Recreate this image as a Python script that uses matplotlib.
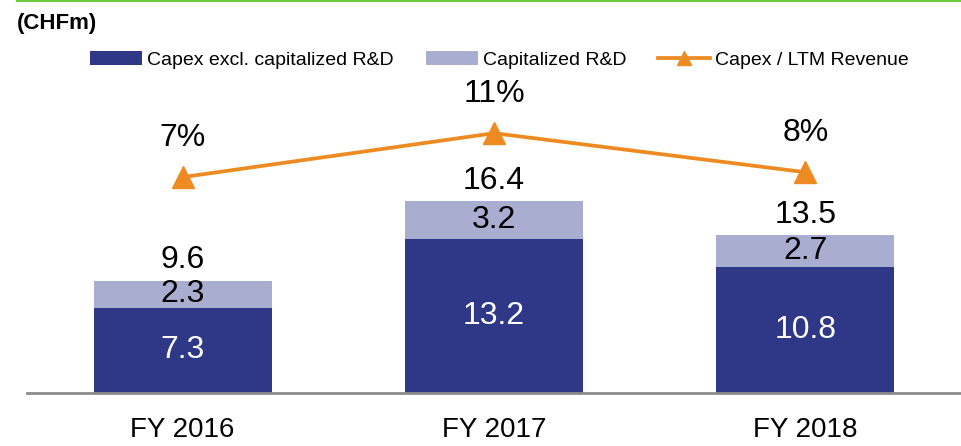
import matplotlib
matplotlib.use("Agg")
import matplotlib.pyplot as plt
from matplotlib.lines import Line2D
import numpy as np

plt.rcParams['font.family'] = ['Liberation Sans', 'DejaVu Sans']

# data
years = ['FY 2016', 'FY 2017', 'FY 2018']
capex_excl = [7.3, 13.2, 10.8]
cap_rd = [2.3, 3.2, 2.7]
capex_ratio = [0.074, 0.110, 0.078]   # Capex / LTM Revenue
ratio_labels = ['7%', '11%', '8%']

dark = '#2E3886'
light = '#A9ADD0'
orange = '#EE8A22'

fig = plt.figure(figsize=(9.61, 4.46), dpi=100)
ax = fig.add_axes([0.0281, 0.1188, 0.9719, 0.7018])

x = np.arange(len(years))
totals = np.array(capex_excl) + np.array(cap_rd)
w = 0.571

b1 = ax.bar(x, capex_excl, w, color=dark, label='Capex excl. capitalized R&D', zorder=2)
b2 = ax.bar(x, cap_rd, w, bottom=capex_excl, color=light, label='Capitalized R&D', zorder=2)

# labels inside / above bars
for i in range(len(x)):
    ax.text(x[i], capex_excl[i] / 2, f'{capex_excl[i]:.1f}', ha='center', va='center',
            color='white', fontsize=23)
    ax.text(x[i], capex_excl[i] + cap_rd[i] / 2, f'{cap_rd[i]:.1f}', ha='center', va='center',
            color='black', fontsize=23)
    ax.annotate(f'{totals[i]:.1f}', (x[i], totals[i]), xytext=(0, 15), textcoords='offset points',
                ha='center', va='center', fontsize=23)

ax.set_xlim(-0.5, 2.5)
ax.set_ylim(0, 26.8)
ax.set_xticks(x)
ax.set_xticklabels(years, fontsize=20)
ax.tick_params(axis='x', length=0, pad=17)
ax.set_yticks([])
for s in ['top', 'left', 'right']:
    ax.spines[s].set_visible(False)
ax.spines['bottom'].set_color('#8C8C8C')
ax.spines['bottom'].set_linewidth(2)

# ratio line on a hidden second axis
ax2 = ax.twinx()
ln, = ax2.plot(x, capex_ratio, color=orange, lw=2.7, marker='^', markersize=16,
               label='Capex / LTM Revenue', zorder=3)
for i in range(len(x)):
    ax2.annotate(ratio_labels[i], (x[i], capex_ratio[i]), xytext=(0, 28), textcoords='offset points',
                 ha='center', va='center', fontsize=23)
ax2.set_ylim(-0.103, 0.1536)
ax2.set_yticks([])
for s in ['top', 'left', 'right', 'bottom']:
    ax2.spines[s].set_visible(False)

# legend
fig.legend([b1, b2, ln], ['Capex excl. capitalized R&D', 'Capitalized R&D', 'Capex / LTM Revenue'],
           loc='center left', bbox_to_anchor=(0.0937, 0.8655), ncol=3, frameon=False,
           fontsize=14, handlelength=2.67, handletextpad=0.26, columnspacing=1.65,
           borderpad=0, borderaxespad=0, markerscale=0.6)

fig.text(17 / 961, 1 - 24 / 446, '(CHFm)', fontsize=16, fontweight='bold', ha='left', va='center')

# green rule at the top
fig.add_artist(Line2D([17 / 961, 1], [0.9985, 0.9985], color='#6CCB3A', lw=1.5,
                      transform=fig.transFigure))

fig.savefig('out.png', dpi=100)
